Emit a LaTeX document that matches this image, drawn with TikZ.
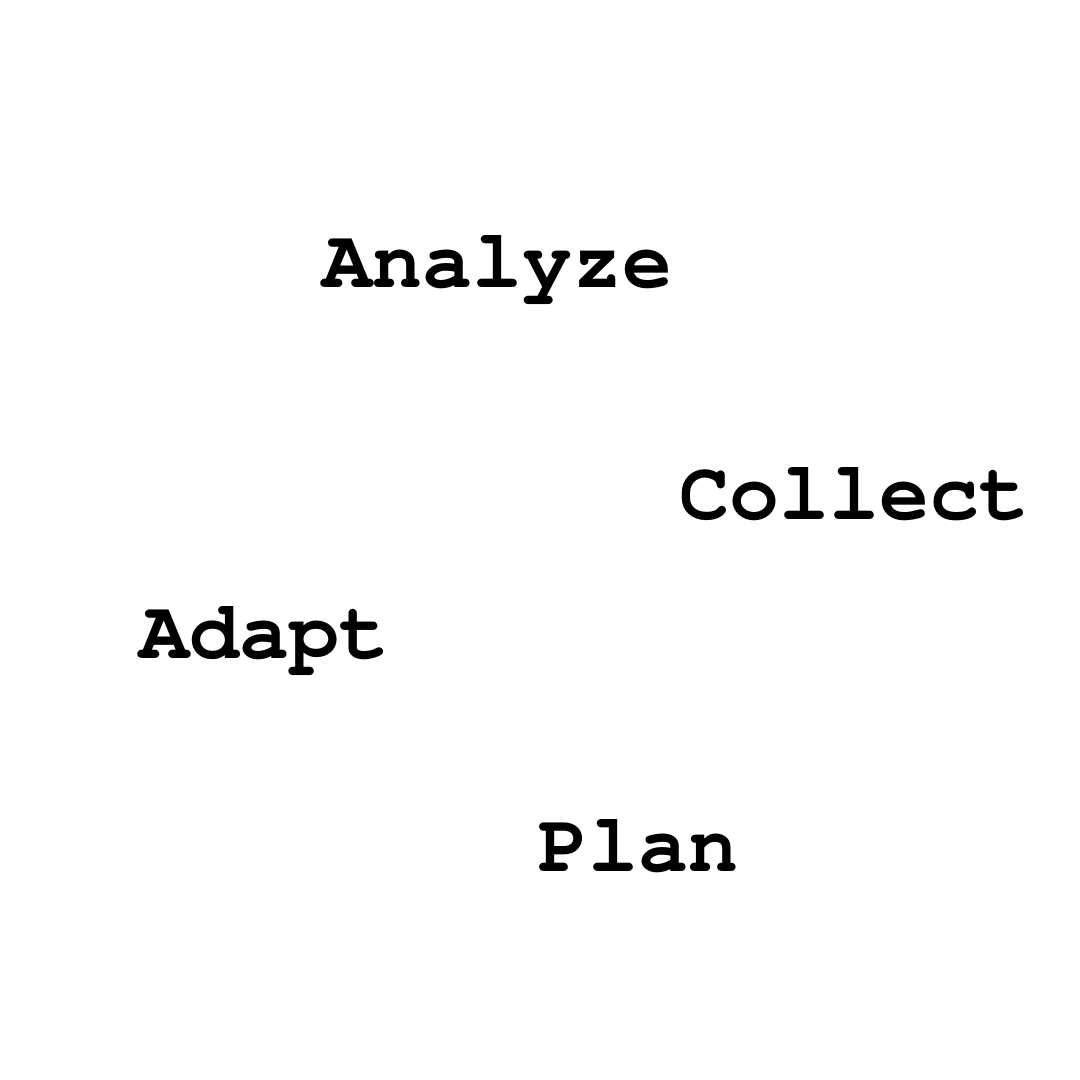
\documentclass[tikz,border=0pt]{standalone}
\tikzset{every picture/.style={line width=0.75pt}}
\tikzset{
	stage/.style={font=\fontencoding{T1}\fontfamily{pcr}\bfseries\fontsize{62.5}{62.5}\selectfont, inner sep=0pt, anchor=base west}}

\begin{document}
\begin{tikzpicture}[x=0.75pt,y=0.75pt,yscale=-1,xscale=1]
	\useasboundingbox (0,0) rectangle (1080,1080);

	% Text Node
	\node [stage] (analyze) at (322,287) {Analyze};
	% Text Node
	\node [stage] (collect) at (679,519) {Collect};
	% Text Node
	\node [stage] (adapt) at (139,658) {Adapt};
	% Text Node
	\node [stage] (plan) at (538,871) {Plan};

\end{tikzpicture}
\end{document}
